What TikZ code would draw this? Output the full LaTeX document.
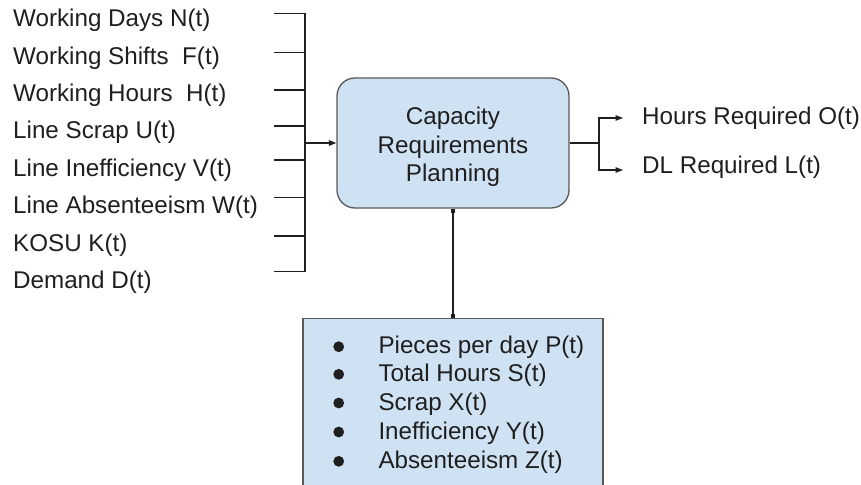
\documentclass[tikz,border=0pt]{standalone}
\usepackage{fontspec}
\setmainfont{Liberation Sans}
\usetikzlibrary{arrows.meta}
\definecolor{boxfill}{HTML}{CFE2F3}
\definecolor{boxline}{HTML}{595959}
\definecolor{ink}{HTML}{1F1F1F}
\begin{document}
\begin{tikzpicture}[x=1pt,y=-1pt,
  txt/.style={anchor=base west, inner sep=0pt, text=ink, font=\fontsize{24.2}{28.4}\selectfont},
  conn/.style={draw=ink, line width=1.2pt},
  arr/.style={-{Triangle[length=7.5pt,width=5.5pt]}},
  sq/.style={{Square[length=4.5pt,width=4.5pt]}-{Square[length=4.5pt,width=4.5pt]}},
  proc/.style={draw=boxline, line width=1.3pt, fill=boxfill, rounded corners=18pt,
    minimum width=232pt, minimum height=130pt, align=center, text=ink,
    font=\fontsize{24.2}{28.4}\selectfont},
  panel/.style={draw=boxline, line width=1.3pt, fill=boxfill,
    minimum width=300pt, minimum height=200pt, anchor=north},
  bul/.style={circle, fill=ink, inner sep=0pt, minimum size=10.8pt}
]
\clip (0,0) rectangle (861,484);
\fill[white] (0,0) rectangle (861,484);

% inputs
\node[txt] (in1) at (13,26.7) {Working Days N(t)};
\node[txt] (in2) at (13,65) {Working Shifts\ \ F(t)};
\node[txt] (in3) at (13,101.7) {Working Hours\ \ H(t)};
\node[txt] (in4) at (13,138) {Line Scrap U(t)};
\node[txt] (in5) at (13,176.7) {Line Inefficiency V(t)};
\node[txt] (in6) at (13,213) {Line Absenteeism W(t)};
\node[txt] (in7) at (13,251.7) {KOSU K(t)};
\node[txt] (in8) at (13,288) {Demand D(t)};

\coordinate (s1) at (274,13.3);
\coordinate (s2) at (274,52.3);
\coordinate (s3) at (274,90);
\coordinate (s4) at (274,126);
\coordinate (s5) at (274,160);
\coordinate (s6) at (274,197.3);
\coordinate (s7) at (274,236);
\coordinate (s8) at (274,271.7);
\coordinate (bartop) at (305,13.3);
\coordinate (barbot) at (305,271.7);

% process box
\node[proc] (crp) at (453,143) {\rule{0pt}{25.5pt}Capacity\\Requirements\\Planning};

\draw[conn] (bartop) -- (barbot);
\foreach \i in {1,...,8} { \draw[conn] (s\i) -- (s\i -| bartop); }
\draw[conn,arr] (crp.west -| bartop) -- (crp.west);

% outputs
\coordinate (fork) at (599,143);
\coordinate (o1) at (623,118);
\coordinate (o2) at (623,170);
\node[txt] (out1) at (642,124.3) {Hours Required O(t)};
\node[txt] (out2) at (642,173.3) {DL Required L(t)};
\draw[conn] (crp.east) -- (fork);
\draw[conn,arr] (fork) |- (o1);
\draw[conn,arr] (fork) |- (o2);

% metrics panel
\node[panel] (metrics) at (453,318) {};
\draw[conn,sq] (crp.south) -- (metrics.north);

\node[bul] (b1) at (338.7,346.7) {};
\node[bul] (b2) at (338.7,374.3) {};
\node[bul] (b3) at (338.7,403) {};
\node[bul] (b4) at (338.7,432) {};
\node[bul] (b5) at (338.7,461.3) {};
\node[txt] (m1) at (378.3,353.3) {Pieces per day P(t)};
\node[txt] (m2) at (378.3,381.7) {Total Hours S(t)};
\node[txt] (m3) at (378.3,410.7) {Scrap X(t)};
\node[txt] (m4) at (378.3,439.3) {Inefficiency Y(t)};
\node[txt] (m5) at (378.3,468.3) {Absenteeism Z(t)};
\end{tikzpicture}
\end{document}
